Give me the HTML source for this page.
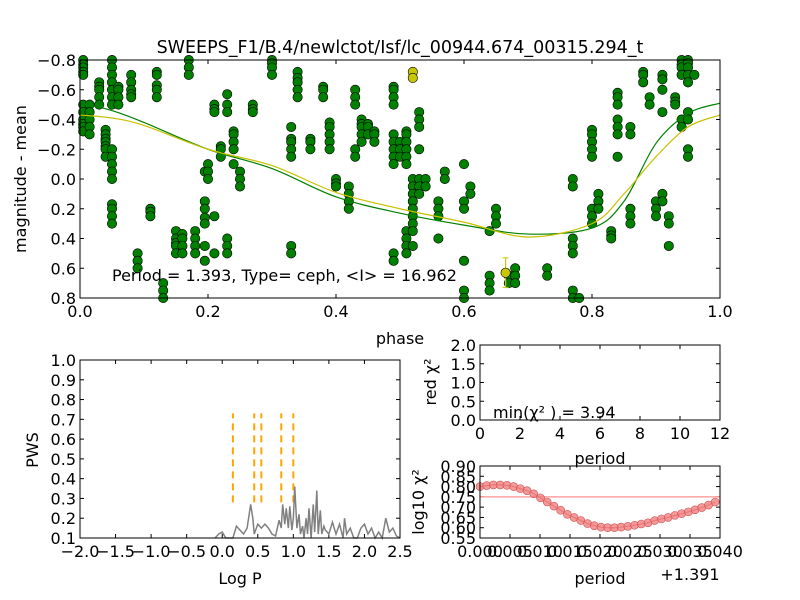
<!DOCTYPE html>
<html><head><meta charset="utf-8"><style>
html,body{margin:0;padding:0;background:#fff;}
svg{display:block;font-family:"DejaVu Sans","Liberation Sans",sans-serif;}
</style></head><body>
<svg id="fig" width="800" height="600" viewBox="0 0 800 600" xmlns="http://www.w3.org/2000/svg">
<rect width="800" height="600" fill="#fff"/>
<text x="400" y="53" font-size="17.5" text-anchor="middle">SWEEPS_F1/B.4/newlctot/Isf/lc_00944.674_00315.294_t</text>
</svg>
<script>
// ---- Light-curve data (phase, magnitude) ----
const clusterPhases=[0.005,0.015,0.03,0.04,0.05,0.06,0.08,0.09,0.11,0.12,0.13,0.15,0.16,0.17,0.18,0.195,0.2,0.21,0.22,0.23,0.24,0.25,0.27,0.3,0.33,0.34,0.36,0.38,0.39,0.4,0.42,0.43,0.44,0.45,0.46,0.49,0.5,0.51,0.52,0.53,0.54,0.56,0.57,0.6,0.61,0.64,0.65,0.67,0.68,0.73,0.77,0.78,0.8,0.81,0.83,0.84,0.86,0.88,0.89,0.9,0.91,0.92,0.93,0.94,0.95,0.96];
const clusterMags=[[-0.8,-0.77,-0.75,-0.72,-0.7,-0.5,-0.45,-0.4,-0.37,-0.35,-0.32],[-0.5,-0.45,-0.4,-0.35,-0.3],[-0.65,-0.62,-0.6,-0.55,-0.5],[-0.33,-0.3,-0.27,-0.25,-0.22,-0.2,-0.15],[-0.8,-0.75,-0.7,-0.65,-0.6,-0.55,-0.5,-0.2,-0.15,-0.1,-0.05,0.0,0.17,0.2,0.25,0.3],[-0.62,-0.6,-0.55,-0.5],[-0.7,-0.65,-0.6,-0.57,-0.55],[0.5,0.55,0.6],[0.2,0.22,0.25],[-0.72,-0.7,-0.63,-0.6,-0.55],[0.7,0.75,0.8],[0.35,0.4,0.43,0.45,0.5],[0.37,0.4,0.45,0.5],[-0.8,-0.75,-0.7],[0.35,0.4,0.45,0.5],[-0.05,0.15,0.2,0.26,0.3,0.45,0.55],[-0.1,-0.05,0.0],[-0.5,-0.47,-0.45,0.25,0.5],[-0.22,-0.2,-0.15],[-0.57,-0.5,-0.45,0.4,0.45,0.5],[-0.32,-0.3,-0.25,-0.2,-0.1],[-0.05,0.0,0.05],[-0.5,-0.47,-0.45],[-0.8,-0.78,-0.75,-0.7],[-0.35,-0.27,-0.25,-0.2,-0.15,0.45,0.5],[-0.72,-0.68,-0.65,-0.6,-0.55],[-0.27,-0.25,-0.2],[-0.62,-0.6,-0.55],[-0.38,-0.35,-0.3,-0.25,-0.2],[0.0,0.03,0.05],[0.05,0.1,0.15,0.2],[-0.6,-0.55,-0.5,-0.2,-0.15],[-0.4,-0.37,-0.35,-0.3,-0.25],[-0.37,-0.35,-0.3],[-0.32,-0.3,-0.25],[-0.62,-0.6,-0.55,-0.5,-0.3,-0.25,-0.2,-0.15,-0.1,0.5,0.55],[-0.25,-0.2,-0.15],[-0.32,-0.3,-0.25,-0.2,-0.15,-0.1,0.35,0.4,0.45,0.5],[0.0,0.05,0.1,0.15,0.2,0.25,0.3,0.35,0.45],[-0.45,-0.4,-0.35,-0.2,0.0,0.05,0.1],[0.0,0.05],[0.15,0.2,0.25,0.4],[-0.05,0.0],[-0.1,0.15,0.2,0.55,0.75,0.8],[0.05,0.1],[0.35,0.65,0.7,0.75],[0.2,0.25,0.3],[0.65,0.7],[0.6,0.65,0.7],[0.6,0.65],[0.0,0.05,0.4,0.45,0.5,0.75,0.8],[0.8],[-0.33,-0.3,-0.25,-0.2,-0.15,0.2,0.25,0.3],[0.1,0.15,0.2],[0.35,0.38,0.4],[-0.58,-0.55,-0.5,-0.4,-0.35,-0.3,-0.15],[-0.35,-0.3,0.2,0.25,0.3],[-0.72,-0.7,-0.65],[-0.55,-0.5],[0.15,0.2,0.25],[-0.7,-0.67,-0.6,-0.45,0.1,0.15],[0.25,0.3,0.45],[-0.55,-0.52,-0.5],[-0.8,-0.77,-0.75,-0.7,-0.4,-0.35],[-0.8,-0.78,-0.75,-0.7,-0.65,-0.45,-0.4,-0.2,-0.15],[-0.7]];
const yellowPhases=[0.52,0.52,0.665];
const yellowMags=[-0.72,-0.68,0.63];
const yellowErr=[0,0,0.1];
const curvePhases=[0,0.05,0.1,0.2,0.3,0.4,0.5,0.6,0.7,0.8,0.85,0.9,0.95,1.0];
const greenCurve=[-0.51,-0.46,-0.38,-0.2,-0.07,0.12,0.23,0.31,0.37,0.33,0.15,-0.24,-0.44,-0.51];
const yellowCurve=[-0.43,-0.41,-0.36,-0.2,-0.09,0.09,0.2,0.29,0.39,0.3,0.1,-0.15,-0.35,-0.43];
// ---- Periodogram ----
const logP=[-0.1,-0.05,0,0.05,0.15,0.2,0.25,0.3,0.35,0.4,0.43,0.45,0.5,0.55,0.6,0.65,0.7,0.75,0.8,0.83,0.85,0.88,0.9,0.93,0.95,0.98,1.0,1.02,1.05,1.08,1.1,1.13,1.15,1.18,1.2,1.22,1.25,1.28,1.3,1.33,1.35,1.38,1.4,1.43,1.45,1.5,1.55,1.6,1.65,1.7,1.72,1.75,1.8,1.85,1.9,1.95,2.0,2.05,2.1,2.15,2.2,2.25,2.3,2.35,2.4,2.45,2.5];
const pws=[0.1,0.12,0.13,0.1,0.1,0.16,0.14,0.12,0.15,0.27,0.2,0.12,0.17,0.15,0.17,0.15,0.12,0.11,0.19,0.15,0.27,0.17,0.25,0.15,0.26,0.14,0.2,0.36,0.15,0.22,0.12,0.16,0.1,0.2,0.12,0.25,0.1,0.27,0.13,0.34,0.12,0.24,0.12,0.16,0.14,0.12,0.18,0.12,0.17,0.1,0.2,0.12,0.15,0.1,0.1,0.15,0.17,0.12,0.15,0.1,0.13,0.1,0.2,0.13,0.15,0.11,0.1];
const candLogP=[0.15,0.45,0.55,0.83,1.0];
// ---- chi2 scan ----
const chiVals=[0.80,0.805,0.808,0.808,0.806,0.80,0.79,0.78,0.765,0.745,0.725,0.705,0.685,0.665,0.65,0.635,0.62,0.61,0.603,0.6,0.6,0.603,0.607,0.612,0.618,0.624,0.635,0.643,0.65,0.66,0.668,0.677,0.687,0.698,0.71,0.725];
const chiStep=0.00112;
const chiThresh=0.75;

const NS="http://www.w3.org/2000/svg";
const svg=document.getElementById('fig');
function mk(tag,attrs,parent){const e=document.createElementNS(NS,tag);for(const k in attrs)e.setAttribute(k,attrs[k]);(parent||svg).appendChild(e);return e;}
function txt(s,x,y,size,anchor,parent){const t=mk('text',{x:x,y:y,'font-size':size,'text-anchor':anchor||'middle'},parent);t.textContent=s;return t;}
const FS=16;
function axes(name,x0,y0,x1,y1,xmin,xmax,ymin,ymax,xticks,yticks,xlabels,ylabels,fs){
  const g=mk('g',{});
  
  
  const sx=v=>x0+(v-xmin)/(xmax-xmin)*(x1-x0);
  const sy=v=>y1-(v-ymin)/(ymax-ymin)*(y1-y0);
  xticks.forEach((v,i)=>{const x=sx(v);
    mk('line',{x1:x,x2:x,y1:y1,y2:y1-4,stroke:'#000'},g);mk('line',{x1:x,x2:x,y1:y0,y2:y0+4,stroke:'#000'},g);
    const t=txt(xlabels[i],x,y1+19,fs,'middle',g);
    
    });
  yticks.forEach((v,i)=>{const y=sy(v);
    mk('line',{x1:x0,x2:x0+4,y1:y,y2:y,stroke:'#000'},g);mk('line',{x1:x1,x2:x1-4,y1:y,y2:y,stroke:'#000'},g);
    const t=txt(ylabels[i],x0-4,y+6,fs,'end',g);
    
    });
  return {g,sx,sy,frame:()=>mk('rect',{x:x0,y:y0,width:x1-x0,height:y1-y0,fill:'none',stroke:'#000','stroke-width':1},g)};
}
function rng(a,b,s){const r=[];for(let v=a;v<=b+1e-9;v+=s)r.push(+v.toFixed(4));return r;}
const lineP=(xs,ys,ax)=>xs.map((x,i)=>ax.sx(x)+','+ax.sy(ys[i])).join(' ');
function smoothPath(xs,ys,ax){
  const P=xs.map((x,i)=>[ax.sx(x),ax.sy(ys[i])]);
  let d='M'+P[0][0]+','+P[0][1];
  for(let i=0;i<P.length-1;i++){
    const p0=P[Math.max(i-1,0)],p1=P[i],p2=P[i+1],p3=P[Math.min(i+2,P.length-1)];
    const c1=[p1[0]+(p2[0]-p0[0])/6,p1[1]+(p2[1]-p0[1])/6];
    const c2=[p2[0]-(p3[0]-p1[0])/6,p2[1]-(p3[1]-p1[1])/6];
    d+=' C'+c1.join(',')+' '+c2.join(',')+' '+p2.join(',');
  }
  return d;
}

// Main light curve
const xt=rng(0,1,0.2), yt=rng(-0.8,0.8,0.2);
const A=axes('light-curve-plot',80,60,720,298,0,1,0.8,-0.8,xt,yt,xt.map(v=>v.toFixed(1)),yt.map(v=>(v<0?'\u2212':'')+Math.abs(v).toFixed(1)),FS);
clusterPhases.forEach((p,i)=>clusterMags[i].forEach(m=>{
  const c=mk('circle',{cx:A.sx(p),cy:A.sy(m),r:4.7,fill:'#008000',stroke:'#000','stroke-width':0.6},A.g);
  
  }));
yellowPhases.forEach((p,i)=>{
  if(yellowErr[i]>0){mk('line',{x1:A.sx(p),x2:A.sx(p),y1:A.sy(yellowMags[i]-yellowErr[i]),y2:A.sy(yellowMags[i]+yellowErr[i]),stroke:'#c8c800','stroke-width':1.2},A.g);
    [-1,1].forEach(s=>mk('line',{x1:A.sx(p)-3,x2:A.sx(p)+3,y1:A.sy(yellowMags[i]+s*yellowErr[i]),y2:A.sy(yellowMags[i]+s*yellowErr[i]),stroke:'#c8c800'},A.g));}
  const c=mk('circle',{cx:A.sx(p),cy:A.sy(yellowMags[i]),r:4.7,fill:'#c8c800',stroke:'#000','stroke-width':0.6},A.g);
  
  });
const gl=mk('path',{d:smoothPath(curvePhases,greenCurve,A),fill:'none',stroke:'#008000','stroke-width':1.2},A.g);


const yl=mk('path',{d:smoothPath(curvePhases,yellowCurve,A),fill:'none',stroke:'#c8c000','stroke-width':1.2},A.g);


A.frame();
const ann=txt('Period = 1.393, Type= ceph, <I> = 16.962',112,281,FS,'start');


const ylab=txt('magnitude - mean',0,0,FS);ylab.setAttribute('transform','translate(26,179) rotate(-90)');


const xlab=txt('phase',400,344,FS);



// Periodogram
const pxt=rng(-2,2.5,0.5), pyt=rng(0.1,1.0,0.1);
const B=axes('periodogram-plot',80,360,400,538,-2,2.5,0.1,1.0,pxt,pyt,pxt.map(v=>(v<0?'\u2212':'')+Math.abs(v).toFixed(1)),pyt.map(v=>v.toFixed(1)),FS);
candLogP.forEach(v=>{const l=mk('line',{x1:B.sx(v),x2:B.sx(v),y1:B.sy(0.28),y2:B.sy(0.73),stroke:'#ffa500','stroke-width':2,'stroke-dasharray':'7,5'},B.g);
  
  });
const pl=mk('polyline',{points:lineP(logP,pws,B),fill:'none',stroke:'#808080','stroke-width':1.5},B.g);


B.frame();
let t=txt('Log P',240,584,FS);
t=txt('PWS',0,0,FS);t.setAttribute('transform','translate(38,450) rotate(-90)');

// Reduced chi2 (empty)
const cxt=rng(0,12,2), cyt=rng(0,2,0.5);
const C=axes('reduced-chi2-plot',480,345,720,420,0,12,0,2,cxt,cyt,cxt.map(v=>String(v)),cyt.map(v=>v.toFixed(1)),FS);
C.frame();
t=txt('min(\u03C7\u00B2 ) = 3.94',493,418,FS,'start');
t=txt('period',600,464,FS);
t=txt('red \u03C7\u00B2',0,0,FS);t.setAttribute('transform','translate(436,382) rotate(-90)');

// log10 chi2 scan
const dxt=rng(0,0.04,0.005), dyt=rng(0.55,0.9,0.05);
const D=axes('log-chi2-scan-plot',480,466,720,538,0,0.04,0.55,0.9,dxt,dyt,dxt.map(v=>v.toFixed(3)),dyt.map(v=>v.toFixed(2)),FS);
const th=mk('line',{x1:480,x2:720,y1:D.sy(chiThresh),y2:D.sy(chiThresh),stroke:'#ff9090','stroke-width':1.3},D.g);


const chiX=chiVals.map((v,i)=>i*chiStep);
mk('polyline',{points:lineP(chiX,chiVals,D),fill:'none',stroke:'#d04040','stroke-width':1},D.g);
chiVals.forEach((v,i)=>{const c=mk('circle',{cx:D.sx(chiX[i]),cy:D.sy(v),r:4,fill:'#f08080','fill-opacity':0.8,stroke:'#d05050','stroke-width':0.6},D.g);
  
  });
D.frame();
t=txt('+1.391',690,580,FS);
t=txt('period',600,584,FS);
t=txt('log10 \u03C7\u00B2',0,0,FS);t.setAttribute('transform','translate(424,502) rotate(-90)');
</script>
</body></html>
